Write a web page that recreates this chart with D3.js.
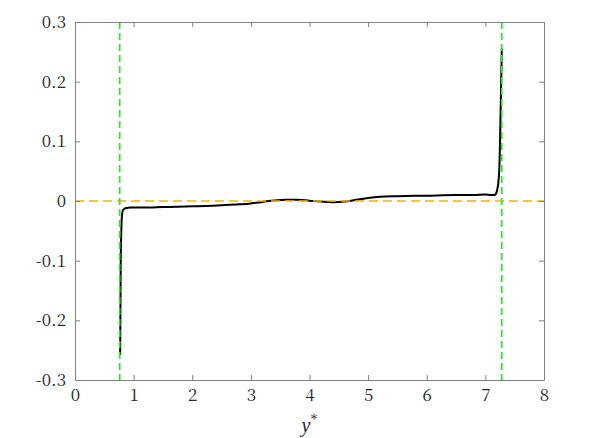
<!DOCTYPE html>
<html>
<head>
<meta charset="utf-8">
<script src="https://cdn.jsdelivr.net/npm/d3@7"></script>
<style>
  body { margin: 0; background: #fff; }
</style>
</head>
<body>
<svg id="chart" width="598" height="438"></svg>
<script>
// profile samples
const ystar = [0.77, 0.775, 0.78, 0.79, 0.80, 0.82, 0.86, 0.95, 1.2, 1.5, 2.0, 2.5, 2.8, 3.0, 3.2, 3.4, 3.6, 3.8, 4.0, 4.2, 4.4, 4.6, 4.8, 5.0, 5.2, 5.5, 6.0, 6.5, 6.8, 7.0, 7.1, 7.15, 7.18, 7.2, 7.22, 7.24, 7.25, 7.26, 7.27, 7.28];
const value = [-0.258, -0.18, -0.10, -0.05, -0.025, -0.015, -0.012, -0.011, -0.011, -0.010, -0.009, -0.007, -0.0055, -0.004, -0.0015, 0.001, 0.002, 0.002, 0.0005, -0.001, -0.002, -0.001, 0.002, 0.005, 0.007, 0.008, 0.009, 0.010, 0.010, 0.011, 0.010, 0.010, 0.012, 0.018, 0.03, 0.06, 0.10, 0.15, 0.20, 0.256];
const xTicks = [0, 1, 2, 3, 4, 5, 6, 7, 8];
const yTicks = [-0.3, -0.2, -0.1, 0, 0.1, 0.2, 0.3];
const walls = [0.763, 7.28];
const refLevel = 0;

const m = { left: 75, top: 22, right: 54, bottom: 58 };
const W = 598, H = 438;
const iw = W - m.left - m.right, ih = H - m.top - m.bottom;
// the Liberation Serif here draws no digits, the CJK serif does
const digitFont = "'Noto Serif CJK SC', 'Liberation Serif', serif";
const letterFont = "'Liberation Serif', serif";

const svg = d3.select('#chart');
const x = d3.scaleLinear().domain([0, 8]).range([m.left, m.left + iw]);
const y = d3.scaleLinear().domain([-0.3, 0.3]).range([m.top + ih, m.top]);

const axisColor = '#808080';
const textColor = '#262626';

// curve first, dashed guides drawn over it
const line = d3.line().x((d, i) => x(ystar[i])).y((d) => y(d)).curve(d3.curveMonotoneX);
svg.append('path')
  .attr('d', line(value))
  .attr('fill', 'none')
  .attr('stroke', '#000')
  .attr('stroke-width', 2)
  .attr('stroke-linejoin', 'round');

svg.append('line')
  .attr('x1', x(0)).attr('x2', x(8))
  .attr('y1', y(refLevel)).attr('y2', y(refLevel))
  .attr('stroke', '#EDB120')
  .attr('stroke-width', 1.6)
  .attr('stroke-dasharray', '9,5');

svg.selectAll('.wall')
  .data(walls)
  .enter()
  .append('line')
    .attr('class', 'wall')
    .attr('x1', (d) => x(d)).attr('x2', (d) => x(d))
    .attr('y1', y(0.3)).attr('y2', y(-0.3))
    .attr('stroke', '#1ef01e')
    .attr('stroke-width', 1.6)
    .attr('stroke-dasharray', '7,4');

const yFmt = (d) => d === 0 ? '0' : d3.format('.1f')(d).replace('\u2212', '-');

// box with inward ticks on all four sides
const axes = [
  { ax: d3.axisBottom(x).tickValues(xTicks).tickSizeInner(-5).tickSizeOuter(0).tickPadding(9).tickFormat(d3.format('d')), t: `translate(0,${m.top + ih})` },
  { ax: d3.axisTop(x).tickValues(xTicks).tickSizeInner(-5).tickSizeOuter(0).tickFormat(''), t: `translate(0,${m.top})` },
  { ax: d3.axisLeft(y).tickValues(yTicks).tickSizeInner(-5).tickSizeOuter(0).tickPadding(9).tickFormat(yFmt), t: `translate(${m.left},0)` },
  { ax: d3.axisRight(y).tickValues(yTicks).tickSizeInner(-5).tickSizeOuter(0).tickFormat(''), t: `translate(${m.left + iw},0)` }
];

axes.forEach((a) => {
  const g = svg.append('g').attr('transform', a.t).call(a.ax)
    .attr('font-family', digitFont)
    .attr('font-size', 17);
  g.select('.domain').attr('stroke', axisColor);
  g.selectAll('.tick line').attr('stroke', axisColor);
  g.selectAll('.tick text').attr('fill', textColor);
});

svg.append('text')
  .attr('x', x(4))
  .attr('y', 432)
  .attr('text-anchor', 'middle')
  .attr('fill', textColor)
  .attr('font-family', letterFont)
  .attr('font-size', 20)
  .attr('font-style', 'italic')
  .text('y')
  .append('tspan')
    .attr('dy', -8)
    .attr('font-style', 'normal')
    .attr('font-size', 14)
    .text('*');
</script>
</body>
</html>
